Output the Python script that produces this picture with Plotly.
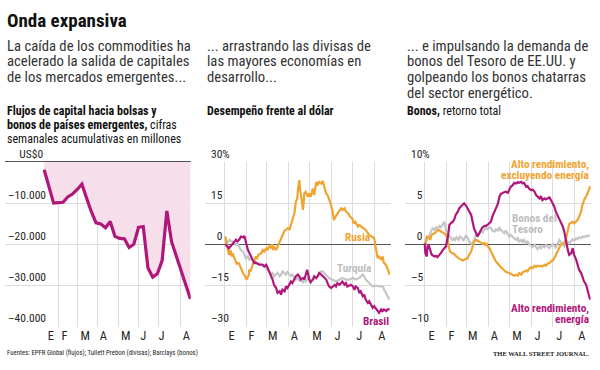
import pandas as pd
import plotly.graph_objects as go

# ---------------- DATA ----------------
BASE = pd.Timestamp("2015-01-01")

# Left panel: weekly cumulative flows (US$ millions); x as days since Jan 1
flows_days = [9, 23, 30, 37, 44, 51, 58, 65, 72, 79, 86, 93, 100, 107, 114, 121, 128,
              135, 142, 149, 156, 163, 170, 177, 184, 191, 198, 205, 212, 219, 226]
flows_values = [-1900, -10000, -9900, -9800, -8500, -7800, -6700, -5400, -8800, -12100,
                -14800, -15100, -16000, -14500, -18100, -18600, -18700, -20800, -20000,
                -15900, -15700, -25800, -28000, -27200, -24000, -11900, -19400, -22800,
                -26500, -29800, -33300]

# Middle panel: performance vs the dollar (%)
russia_days = [1, 3, 6, 8, 10, 11, 14, 17, 20, 22, 24, 26, 29, 31, 34, 35, 37, 39, 40, 42, 44,
               46, 48, 52, 54, 56, 59, 61, 63, 66, 67, 69, 70, 73, 75, 78, 80, 82, 85, 87, 89,
               92, 94, 96, 99, 101, 103, 104, 106, 107, 109, 111, 112, 113, 115, 118, 120,
               122, 125, 127, 130, 132, 134, 137, 139, 141, 144, 146, 148, 151, 153, 155,
               157, 159, 162, 165, 167, 170, 172, 175, 178, 181, 183, 185, 189, 191, 196,
               200, 205, 209, 212, 214, 216, 217, 219, 222, 224, 226, 229, 231, 234]
russia_values = [2.8, 0.4, -3.9, -2.1, -4.5, -3.3, -5.1, -7.1, -6.9, -8.1, -9.9, -10.5, -11.7,
                 -12.9, -11.5, -9.3, -9.9, -8.1, -7.1, -6.3, -4.5, -5.1, -3.9, -3.3, -2.1,
                 -2.7, -1.5, -2.1, -0.6, -1.5, 0.1, -2.1, -0.8, -2.1, -0.8, 1.0, 2.2, 3.4,
                 5.0, 5.2, 5.8, 5.4, 7.6, 8.8, 11.3, 15.5, 16.7, 20.3, 23.4, 19.7, 16.7, 12.5,
                 14.9, 18.5, 19.1, 17.3, 18.5, 17.3, 20.3, 17.9, 22.7, 21.5, 22.7, 22.1, 23.1,
                 20.9, 18.5, 17.9, 16.7, 14.3, 11.9, 8.8, 10.0, 10.6, 11.9, 13.1, 12.5, 13.1,
                 11.9, 11.3, 10.0, 9.4, 7.6, 8.2, 6.4, 7.0, 5.8, 5.2, 3.4, 2.8, 2.2, -0.8,
                 -3.3, -5.1, -4.5, -5.7, -4.5, -6.9, -7.5, -8.7, -11.1]

turkey_days = [1, 4, 7, 9, 11, 14, 16, 18, 21, 23, 26, 28, 30, 33, 35, 37, 40, 42, 44, 49, 54,
               59, 63, 66, 68, 70, 73, 75, 78, 80, 82, 85, 87, 89, 92, 94, 96, 99, 101, 104,
               106, 108, 111, 113, 115, 118, 120, 122, 125, 127, 130, 132, 134, 137, 139,
               141, 144, 146, 148, 151, 153, 158, 163, 167, 172, 177, 182, 186, 191, 193,
               196, 198, 200, 203, 205, 208, 210, 215, 219, 224, 226, 229, 231, 234]
turkey_values = [0, 1.0, 1.6, 1.2, 1.0, 0.4, -0.2, 0.4, -0.8, -2.1, -2.7, -3.9, -5.1, -4.5,
                 -5.7, -5.1, -6.3, -6.9, -7.1, -6.9, -7.5, -8.7, -9.9, -11.1, -10.5, -11.7,
                 -11.1, -10.5, -11.7, -11.1, -9.9, -10.5, -11.1, -9.9, -11.1, -11.7, -11.1,
                 -12.3, -12.9, -12.3, -13.6, -12.7, -14.2, -12.9, -13.6, -12.3, -12.9, -13.6,
                 -12.7, -12.9, -12.3, -11.7, -11.1, -9.9, -9.9, -10.5, -11.1, -11.7, -12.3,
                 -12.7, -12.9, -13.6, -12.9, -12.3, -12.9, -12.9, -12.3, -12.9, -12.3, -11.7,
                 -11.1, -11.7, -12.9, -13.6, -14.2, -14.8, -15.4, -15.1, -15.4, -15.4, -16.6,
                 -17.8, -19.0, -20.2]

brazil_days = [1, 3, 6, 9, 11, 14, 16, 18, 21, 23, 26, 28, 29, 31, 33, 35, 37, 40, 42, 44, 47,
               49, 54, 56, 59, 61, 63, 66, 68, 70, 73, 75, 78, 80, 82, 85, 87, 89, 92, 94, 96,
               99, 101, 104, 106, 108, 111, 113, 115, 117, 119, 120, 122, 125, 127, 130, 132,
               134, 137, 139, 141, 144, 146, 148, 151, 153, 156, 158, 160, 163, 165, 167, 170,
               172, 174, 177, 179, 182, 184, 186, 189, 191, 193, 196, 198, 200, 203, 205, 208,
               210, 212, 215, 217, 219, 222, 224, 226, 229, 231, 234]
brazil_values = [0, -0.8, -1.5, -0.6, 0.1, 1.0, 1.6, 1.0, 1.8, 2.8, 2.5, 3.0, 2.2, -0.2, -2.1,
                 -3.3, -3.9, -5.7, -6.9, -6.7, -7.1, -7.5, -7.5, -8.1, -7.5, -8.7, -9.9, -11.1,
                 -12.9, -14.8, -16.0, -17.8, -17.2, -18.4, -16.6, -17.2, -15.4, -16.0, -14.2,
                 -13.6, -14.2, -12.9, -11.7, -11.1, -11.7, -12.9, -12.3, -12.9, -11.1, -9.3,
                 -11.7, -12.9, -13.9, -12.9, -11.7, -12.3, -11.7, -10.5, -11.1, -11.7, -12.3,
                 -12.9, -14.2, -15.4, -16.0, -15.4, -14.8, -15.4, -14.2, -14.8, -14.2, -13.6,
                 -14.8, -14.2, -15.4, -15.1, -14.8, -15.4, -16.6, -15.4, -16.0, -17.8, -17.2,
                 -19.0, -18.4, -20.2, -21.4, -20.8, -22.0, -23.2, -22.6, -23.8, -24.4, -25.0,
                 -23.8, -24.4, -23.8, -24.4, -23.8, -23.8]

# Right panel: bond total return (%)
treasury_days = [1, 4, 7, 9, 11, 14, 16, 18, 21, 23, 26, 28, 29, 31, 34, 36, 39, 41, 43, 45,
                 48, 50, 53, 55, 58, 60, 62, 64, 67, 69, 72, 74, 77, 80, 82, 85, 87, 89, 92,
                 94, 96, 99, 101, 104, 106, 108, 111, 113, 115, 118, 120, 122, 125, 127, 130,
                 132, 134, 137, 139, 141, 144, 146, 148, 151, 153, 156, 158, 160, 163, 165,
                 167, 170, 172, 174, 177, 179, 182, 184, 186, 189, 191, 193, 196, 198, 200,
                 203, 205, 208, 210, 212, 215, 217, 219, 222, 224, 226, 229, 231, 234]
treasury_values = [0, 0.73, 1.13, 1.53, 1.94, 1.73, 2.06, 1.81, 2.22, 2.06, 2.54, 2.74, 2.22,
                   1.33, 1.13, 0.93, 0.52, 0.73, 0.52, 0.85, 0.52, 0.93, 0.73, 0.44, 1.01,
                   0.93, 0.52, 0.2, 0.04, 0.32, 0.93, 1.25, 1.25, 1.65, 1.41, 1.81, 2.06, 1.81,
                   2.06, 1.94, 1.65, 1.53, 1.81, 1.65, 2.06, 1.73, 1.53, 1.33, 1.65, 1.25,
                   0.93, 1.13, 0.85, 0.73, 0.52, 0.73, 0.32, 0.52, 0.2, 0.52, 0.12, 0.32, 0.04,
                   -0.2, -0.36, -0.08, -0.28, -0.6, -0.28, -0.48, -0.2, -0.36, -0.08, -0.28,
                   -0.48, -0.2, 0.04, -0.2, -0.48, 0.12, 0.52, 0.32, -0.08, -0.28, 0.04, 0.32,
                   0.12, 0.44, 0.6, 0.44, 0.73, 0.6, 0.85, 0.73, 0.93, 0.85, 1.01, 0.93, 1.13]

hy_ex_days = [1, 3, 6, 8, 9, 11, 14, 16, 18, 21, 23, 26, 28, 30, 33, 34, 36, 39, 42, 44, 48,
              52, 54, 56, 59, 61, 63, 66, 68, 70, 73, 75, 78, 80, 82, 85, 86, 88, 89, 92, 94,
              96, 99, 101, 104, 106, 108, 111, 113, 115, 120, 122, 125, 127, 130, 132, 134,
              137, 139, 141, 144, 146, 148, 151, 153, 156, 158, 160, 163, 165, 167, 170, 172,
              174, 177, 179, 182, 184, 186, 189, 191, 193, 196, 198, 200, 203, 205, 208, 210,
              212, 215, 217, 219, 222, 223, 225, 227, 229, 231, 234, 235]
hy_ex_values = [0.04, 0.93, 0.85, 0.52, 0.93, 1.21, 1.33, 1.53, 1.65, 1.73, 1.53, 1.41, 1.25,
                1.13, 0.52, -0.28, -0.89, -1.09, -1.17, -1.41, -1.69, -1.9, -1.98, -1.9,
                -1.81, -1.69, -1.29, -0.89, -0.28, 0.32, 0.52, 0.44, 0.32, 0.2, 0.04, 0.12,
                -0.08, 0.04, -0.2, -0.48, -0.89, -1.29, -1.69, -2.1, -2.38, -2.62, -2.78,
                -3.02, -3.19, -3.35, -3.51, -3.59, -3.71, -3.83, -3.71, -3.83, -3.51, -3.71,
                -3.43, -3.31, -3.19, -3.31, -3.02, -2.78, -2.9, -2.62, -2.78, -2.62, -2.7,
                -2.62, -2.7, -2.5, -2.62, -2.38, -2.3, -2.1, -1.98, -1.69, -1.29, -0.89,
                -0.28, -0.08, 0.04, 0.12, 0.52, 1.73, 2.46, 2.62, 2.74, 2.54, 2.86, 2.94,
                3.35, 3.95, 4.56, 5.16, 5.56, 5.77, 6.25, 6.77, 7.06]

hy_energy_days = [0, 1, 3, 4, 6, 8, 10, 14, 16, 18, 21, 23, 26, 28, 30, 33, 35, 37, 40, 42,
                  44, 47, 49, 52, 54, 56, 59, 61, 63, 66, 68, 70, 73, 75, 78, 80, 82, 85, 87,
                  89, 92, 94, 96, 99, 101, 104, 106, 108, 111, 113, 115, 118, 120, 122, 125,
                  127, 130, 132, 134, 137, 139, 141, 144, 146, 148, 151, 153, 156, 158, 160,
                  163, 165, 167, 170, 172, 174, 177, 179, 182, 184, 186, 189, 191, 193, 196,
                  198, 200, 203, 205, 208, 210, 212, 215, 217, 219, 222, 224, 226, 229, 231,
                  234, 235]
hy_energy_values = [0.12, -1.09, -1.49, -0.28, -0.2, -0.89, -1.29, -1.49, -1.41, -1.57,
                    -1.29, -1.09, -0.69, -0.48, -0.28, 0.93, 2.34, 2.54, 2.74, 3.02, 3.55,
                    3.95, 4.35, 4.64, 4.84, 4.96, 4.64, 4.35, 4.07, 3.55, 2.74, 1.94, 1.33,
                    0.93, 1.41, 1.73, 2.06, 2.22, 2.22, 2.34, 2.54, 2.74, 3.35, 3.95, 4.35,
                    4.96, 5.77, 6.09, 6.25, 6.29, 6.37, 6.25, 6.57, 6.98, 7.18, 7.46, 7.38,
                    7.54, 7.46, 7.58, 7.38, 7.46, 6.98, 7.06, 6.77, 6.57, 6.65, 6.37, 5.97,
                    5.77, 5.56, 5.85, 5.36, 5.56, 5.44, 5.56, 5.69, 5.36, 4.96, 4.56, 3.95,
                    3.43, 2.94, 2.74, 2.14, 1.53, 0.52, -0.69, -1.29, -1.09, -0.48, -1.29,
                    -1.9, -2.5, -3.1, -3.51, -4.11, -4.52, -4.92, -5.73, -6.53, -6.73]

month_letters = ["E", "F", "M", "A", "M", "J", "J", "A"]
left_label_days = [19, 39, 70, 97, 130, 156, 183, 220]
left_grid_days = [31, 59, 88, 120, 149, 178, 212]
right_label_days = [10, 38, 68, 99, 131, 160, 191, 223]
month_start_days = [0, 31, 59, 90, 120, 151, 181, 212]

FS = "\u2007"  # figure space: keeps the numbers right-aligned like the original
flows_ticks = [0, -10000, -20000, -30000, -40000]
flows_ticktext = [FS * 2 + "US$0", "–10.000", "–20.000", "–30.000", "–40.000"]
fx_ticks = [30, 15, 0, -15, -30]
fx_ticktext = ["30%", "15", FS + "0", "–15", "–30"]
bond_ticks = [10, 5, 0, -5, -10]
bond_ticktext = ["10%", FS + "5", FS + "0", "–5", "–10"]

# ---------------- STYLE ----------------
W, H = 600, 370
FONT = "Liberation Sans Narrow, Roboto Condensed, DejaVu Sans Condensed, Roboto, sans-serif"
MAGENTA = "#b0177a"
ORANGE = "#f0a430"
GRAY = "#c6c6c6"
PINK = "#f6dfeb"
GRID = "#dcdcdc"
ZERO = "#555555"
TXT = "#262626"


def dates(days):
    return [(BASE + pd.Timedelta(days=float(d))).strftime("%Y-%m-%d %H:%M") for d in days]


def px_x(x):
    return x / W


def px_y(y):
    return 1 - y / H


fig = go.Figure()

fig.add_trace(go.Scatter(x=dates(flows_days), y=flows_values, mode="lines",
                         line=dict(color=MAGENTA, width=3.2), fill="tozeroy",
                         fillcolor=PINK, xaxis="x", yaxis="y", showlegend=False,
                         hoverinfo="skip"))

fig.add_trace(go.Scatter(x=dates(turkey_days), y=turkey_values, mode="lines",
                         line=dict(color=GRAY, width=2.2), xaxis="x2", yaxis="y2",
                         showlegend=False))
fig.add_trace(go.Scatter(x=dates(russia_days), y=russia_values, mode="lines",
                         line=dict(color=ORANGE, width=2.2), xaxis="x2", yaxis="y2",
                         showlegend=False))
fig.add_trace(go.Scatter(x=dates(brazil_days), y=brazil_values, mode="lines",
                         line=dict(color=MAGENTA, width=2.2), xaxis="x2", yaxis="y2",
                         showlegend=False))

fig.add_trace(go.Scatter(x=dates(treasury_days), y=treasury_values, mode="lines",
                         line=dict(color=GRAY, width=2.2), xaxis="x3", yaxis="y3",
                         showlegend=False))
fig.add_trace(go.Scatter(x=dates(hy_ex_days), y=hy_ex_values, mode="lines",
                         line=dict(color=ORANGE, width=2.2), xaxis="x3", yaxis="y3",
                         showlegend=False))
fig.add_trace(go.Scatter(x=dates(hy_energy_days), y=hy_energy_values, mode="lines",
                         line=dict(color=MAGENTA, width=2.2), xaxis="x3", yaxis="y3",
                         showlegend=False))

plot_top, plot_bottom = 161.7, 326.7
ydom = [px_y(plot_bottom), px_y(plot_top)]


def xaxis(dom_px, rng_days, label_days, grid_days, anchor):
    return dict(domain=[px_x(dom_px[0]), px_x(dom_px[1])], type="date",
                range=dates(rng_days), anchor=anchor, automargin=False,
                tickmode="array", tickvals=dates(label_days), ticktext=month_letters,
                showgrid=False, zeroline=False, showline=False, ticks="",
                tickfont=dict(family=FONT, size=12.5, color=TXT),
                minor=dict(tickmode="array", tickvals=dates(grid_days), showgrid=True,
                           gridcolor=GRID, gridwidth=1, ticks=""),
                fixedrange=True)


def yaxis(rng, tickvals, ticktext, anchor, standoff=0):
    return dict(domain=ydom, range=rng, anchor=anchor, automargin=False,
                tickmode="array", tickvals=tickvals, ticktext=ticktext,
                ticklabelposition="inside top", ticklabeloverflow="allow",
                ticklabelstandoff=standoff,
                showgrid=True, gridcolor=GRID, gridwidth=1,
                zeroline=True, zerolinecolor=ZERO, zerolinewidth=1.3,
                showline=False, ticks="",
                tickfont=dict(family=FONT, size=11.5, color=TXT), fixedrange=True)


fig.update_layout(
    width=W, height=H, margin=dict(l=0, r=0, t=0, b=0, pad=0, autoexpand=False),
    paper_bgcolor="white", plot_bgcolor="white",
    xaxis=xaxis([5, 190.7], [-49.1, 226.4], left_label_days, left_grid_days, "y"),
    yaxis=yaxis([-40060, 60], flows_ticks, flows_ticktext, "x"),
    xaxis2=xaxis([205, 390.7], [-27.9, 235.5], right_label_days, month_start_days, "y2"),
    yaxis2=yaxis([-30.1, 30.1], fx_ticks, fx_ticktext, "x2", standoff=3),
    xaxis3=xaxis([405, 590.7], [-27.9, 235.5], right_label_days, month_start_days, "y3"),
    yaxis3=yaxis([-10.03, 10.03], bond_ticks, bond_ticktext, "x3", standoff=3),
)


def ann(text, x, y, size, color=TXT, xanchor="left", family=FONT):
    fig.add_annotation(text=text, x=px_x(x), y=px_y(y), xref="paper", yref="paper",
                       xanchor=xanchor, yanchor="middle", showarrow=False,
                       font=dict(family=family, size=size, color=color))


# Title and intro text
ann("<b>Onda expansiva</b>", 5, 20, 19, "#111111")
for i, line in enumerate(["La caída de los commodities ha",
                          "acelerado la salida de capitales",
                          "de los mercados emergentes..."]):
    ann(line, 5, 46 + 15.5 * i, 14.7, "#333333")
for i, line in enumerate(["... arrastrando las divisas de",
                          "las mayores economías en",
                          "desarrollo..."]):
    ann(line, 205, 46 + 15.5 * i, 14.7, "#333333")
for i, line in enumerate(["... e impulsando la demanda de",
                          "bonos del Tesoro de EE.UU. y",
                          "golpeando los bonos chatarras",
                          "del sector energético."]):
    ann(line, 405, 46 + 15.5 * i, 14.7, "#333333")

# Chart headers
ann("<b>Flujos de capital hacia bolsas y</b>", 5, 111, 12, "#111111")
ann("<b>bonos de países emergentes,</b> cifras", 5, 125, 12, "#111111")
ann("semanales acumulativas en millones", 5, 139, 12, "#111111")
ann("<b>Desempeño frente al dólar</b>", 205, 111, 12, "#111111")
ann("<b>Bonos,</b> retorno total", 405, 111, 12, "#111111")

# Series labels
ann("<b>Rusia</b>", 343, 237, 11.3, ORANGE)
ann("<b>Turquía</b>", 335, 268, 11.3, "#bdbdbd")
ann("<b>Brasil</b>", 391, 321, 11.3, MAGENTA, xanchor="right")
ann("<b>Alto rendimiento,</b>", 591, 164, 11.3, ORANGE, xanchor="right")
ann("<b>excluyendo energía</b>", 591, 175, 11.3, ORANGE, xanchor="right")
ann("<b>Bonos del</b>", 510, 219, 11.3, "#bdbdbd")
ann("<b>Tesoro</b>", 510, 229.5, 11.3, "#bdbdbd")
ann("<b>Alto rendimiento,</b>", 591, 308, 11.3, MAGENTA, xanchor="right")
ann("<b>energía</b>", 591, 319, 11.3, MAGENTA, xanchor="right")

# Footer
ann("Fuentes: EPFR Global (flujos); Tullett Prebon (divisas); Barclays (bonos)",
    5, 353, 6.8, "#222222")
ann("<b>THE WALL STREET JOURNAL.</b>", 591, 353, 6.5, "#222222", xanchor="right",
    family="Liberation Serif, DejaVu Serif, serif")

# remove the browser's default 8px page margin so the 600x370 figure fills the window
fig.write_html("out.html", config={"displayModeBar": False},
               post_script="document.body.style.margin='0';")
